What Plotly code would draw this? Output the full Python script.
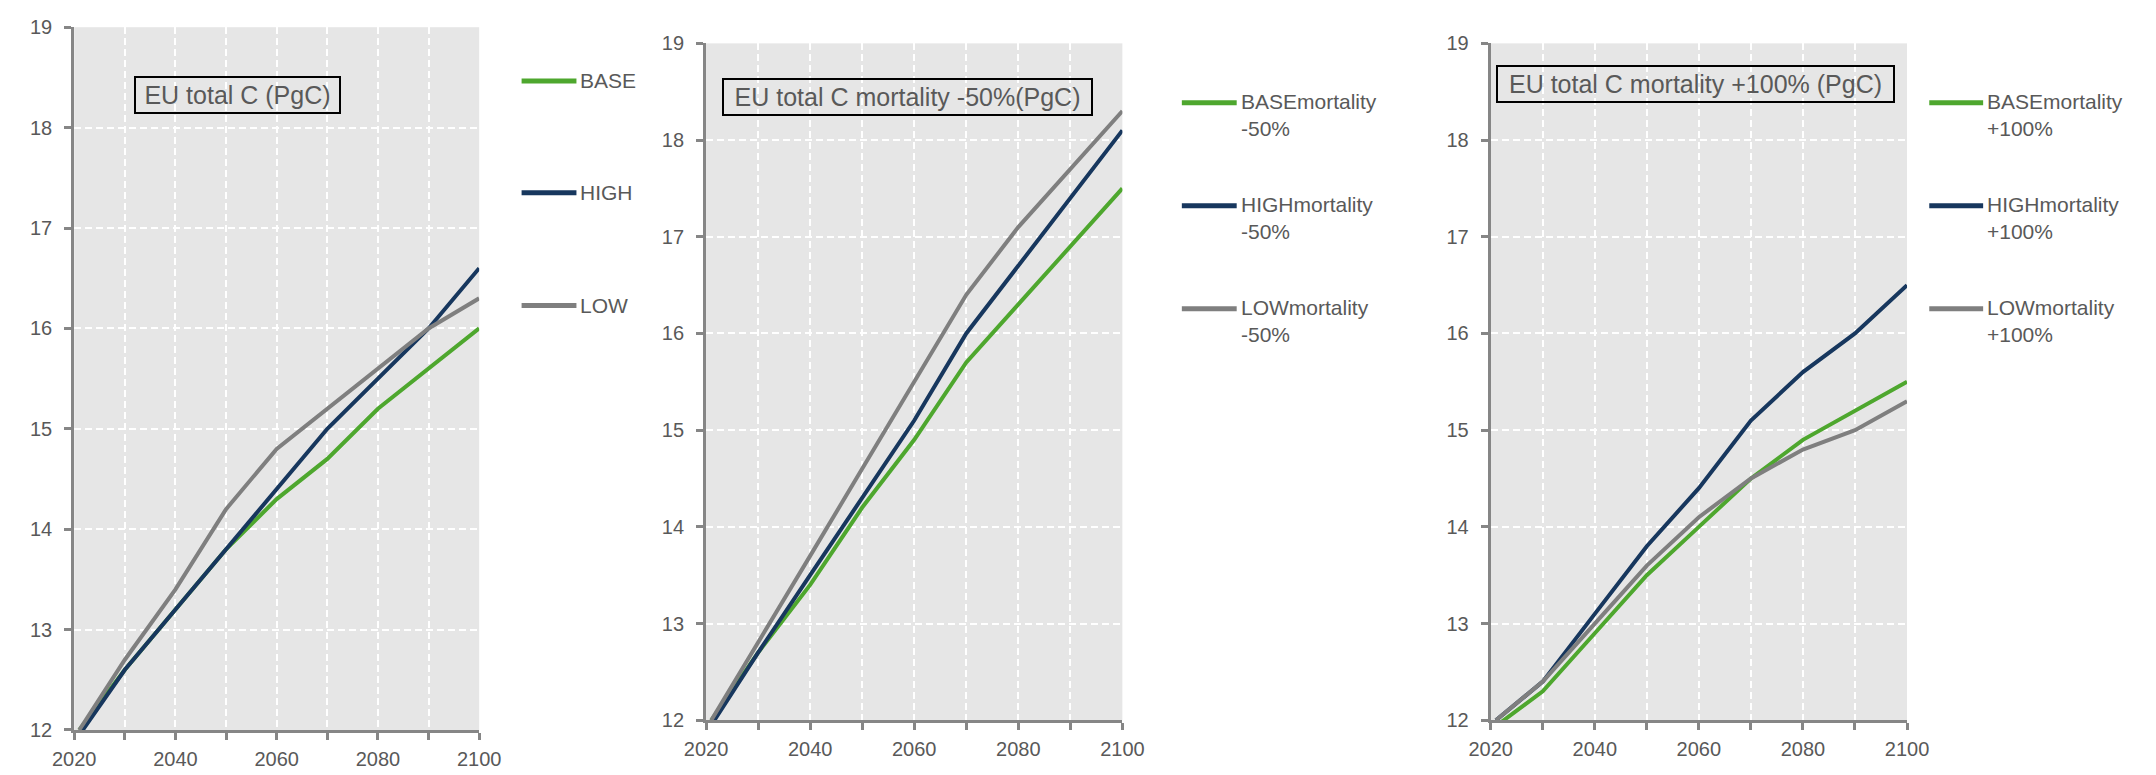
import plotly.graph_objects as go

# ---------------- data ----------------
years = [2021, 2030, 2040, 2050, 2060, 2070, 2080, 2090, 2100]

p1_base = [12.0, 12.6, 13.2, 13.8, 14.3, 14.7, 15.2, 15.6, 16.0]
p1_high = [11.95, 12.6, 13.2, 13.8, 14.4, 15.0, 15.5, 16.0, 16.6]
p1_low = [12.0, 12.7, 13.4, 14.2, 14.8, 15.2, 15.6, 16.0, 16.3]

p2_base = [12.0, 12.7, 13.4, 14.2, 14.9, 15.7, 16.3, 16.9, 17.5]
p2_high = [11.95, 12.7, 13.5, 14.3, 15.1, 16.0, 16.7, 17.4, 18.1]
p2_low = [12.0, 12.8, 13.7, 14.6, 15.5, 16.4, 17.1, 17.7, 18.3]

p3_base = [11.94, 12.3, 12.9, 13.5, 14.0, 14.5, 14.9, 15.2, 15.5]
p3_high = [12.0, 12.4, 13.1, 13.8, 14.4, 15.1, 15.6, 16.0, 16.5]
p3_low = [12.0, 12.4, 13.0, 13.6, 14.1, 14.5, 14.8, 15.0, 15.3]

titles = ["EU total C (PgC)", "EU total C mortality -50%(PgC)", "EU total C mortality +100% (PgC)"]
names1 = ["BASE", "HIGH", "LOW"]
names2 = ["BASEmortality<br>-50%", "HIGHmortality<br>-50%", "LOWmortality<br>-50%"]
names3 = ["BASEmortality<br>+100%", "HIGHmortality<br>+100%", "LOWmortality<br>+100%"]

x_range = [2020, 2100]
y_range = [12, 19]

# ---------------- style ----------------
W, H = 2156, 775
COLORS = ["#4EA72E", "#17375E", "#7F7F7F"]
AXIS = "#868686"
TXT = "#595959"
FONT = "Arial, Liberation Sans, sans-serif"


def px(x):
    return x / W


def py(y):
    return 1 - y / H


panels = [
    dict(series=[p1_base, p1_high, p1_low], names=names1, title=titles[0],
         xd=(53.3, 466.7), yd=(16.7, 740.0),
         box=(116, 67, 207, 38),
         leg_x=(510, 566), leg_y=(72, 187, 303)),
    dict(series=[p2_base, p2_high, p2_low], names=names2, title=titles[1],
         xd=(698.3, 1123.3), yd=(33.3, 730.0),
         box=(718, 69, 371, 38),
         leg_x=(1184, 1240), leg_y=(94.5, 200.5, 306.5)),
    dict(series=[p3_base, p3_high, p3_low], names=names3, title=titles[2],
         xd=(1499.3, 1924.3), yd=(33.3, 730.0),
         box=(1509, 56, 399, 38),
         leg_x=(1947, 2002), leg_y=(94.5, 200.5, 306.5)),
]

fig = go.Figure()
shapes = []
annotations = []

for i, p in enumerate(panels):
    k = "" if i == 0 else str(i + 1)
    for j, ys in enumerate(p["series"]):
        fig.add_trace(go.Scatter(
            x=years, y=ys, mode="lines",
            name=p["names"][j].replace("<br>", " "),
            line=dict(color=COLORS[j], width=4),
            xaxis="x" + k, yaxis="y" + k, showlegend=False,
        ))

    grid = dict(showgrid=True, gridcolor="white", gridwidth=1.5, griddash="7px,4px")
    fig.layout["xaxis" + k] = dict(
        domain=[px(p["xd"][0]), px(p["xd"][1])],
        anchor="y" + k, range=x_range, tick0=2020, dtick=20,
        ticks="outside", ticklen=7, tickwidth=2.5, tickcolor=AXIS,
        showline=True, linecolor=AXIS, linewidth=3,
        tickfont=dict(family=FONT, size=20, color=TXT),
        ticklabelstandoff=2,
        minor=dict(tick0=2020, dtick=10, ticks="outside", ticklen=7, tickwidth=2.5,
                   tickcolor=AXIS, **grid),
        zeroline=False, fixedrange=True, **grid,
    )
    fig.layout["yaxis" + k] = dict(
        domain=[py(p["yd"][1]), py(p["yd"][0])],
        anchor="x" + k, range=y_range, dtick=1,
        ticks="outside", ticklen=7, tickwidth=2.5, tickcolor=AXIS,
        showline=True, linecolor=AXIS, linewidth=3,
        tickfont=dict(family=FONT, size=20, color=TXT),
        ticklabelstandoff=8,
        zeroline=False, fixedrange=True, **grid,
    )

    # title box
    bx, by, bw, bh = p["box"]
    annotations.append(dict(
        xref="paper", yref="paper", x=px(bx + bw / 2), y=py(by + bh / 2),
        xanchor="center", yanchor="middle", showarrow=False,
        text=p["title"], width=bw - 6, height=bh - 6,
        font=dict(family=FONT, size=25, color=TXT),
        bordercolor="#000000", borderwidth=2, borderpad=1,
    ))

    # legend keys
    for j, name in enumerate(p["names"]):
        ly = p["leg_y"][j]
        shapes.append(dict(
            type="line", xref="paper", yref="paper",
            x0=px(p["leg_x"][0]), x1=px(p["leg_x"][1]), y0=py(ly), y1=py(ly),
            line=dict(color=COLORS[j], width=5),
        ))
        two = "<br>" in name
        annotations.append(dict(
            xref="paper", yref="paper", x=px(p["leg_x"][1] + 2),
            y=py(ly + (13 if two else 0)),
            xanchor="left", yanchor="middle", align="left", showarrow=False,
            text=name, font=dict(family=FONT, size=21, color=TXT),
        ))

fig.update_layout(
    width=W, height=H,
    margin=dict(l=0, r=0, t=0, b=0),
    paper_bgcolor="white", plot_bgcolor="#E6E6E6",
    showlegend=False,
    shapes=shapes, annotations=annotations,
    font=dict(family=FONT, color=TXT),
)

fig.write_html("out.html", config={"displayModeBar": False},
               post_script="document.body.style.margin='0';")
